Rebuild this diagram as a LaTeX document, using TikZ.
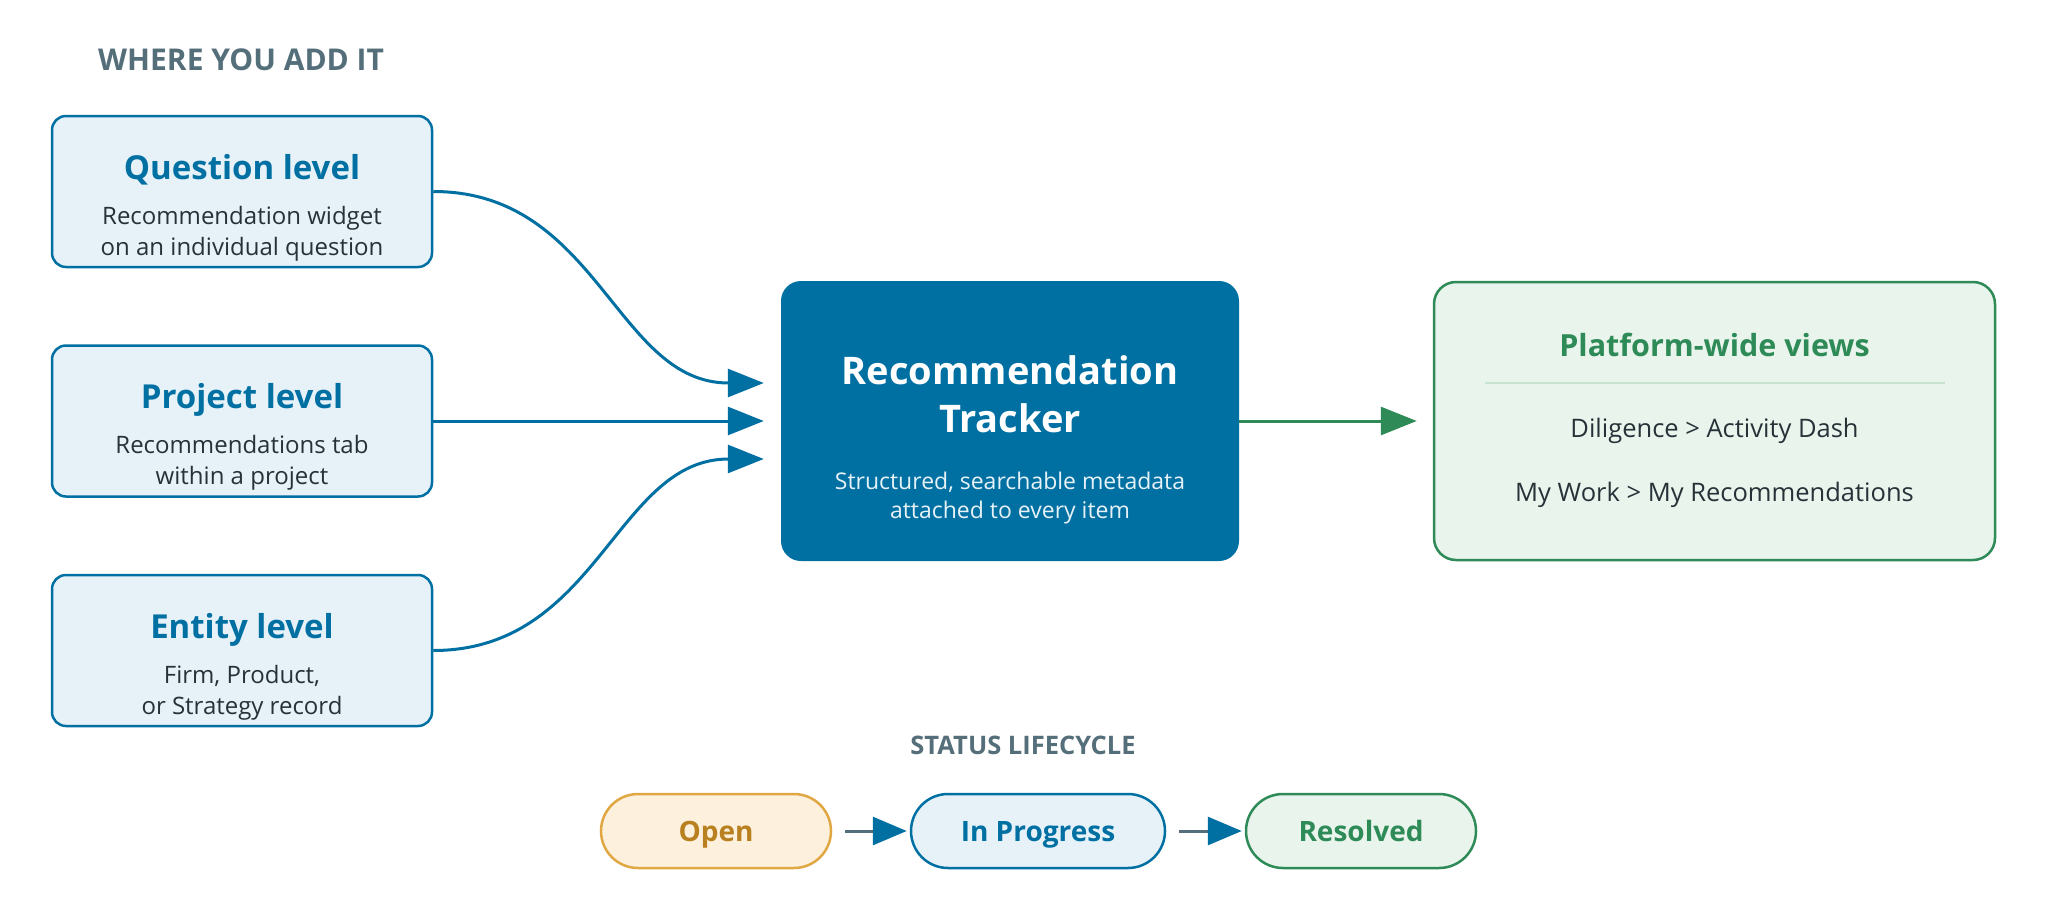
\documentclass[tikz,border=0pt]{standalone}
\usepackage{fontspec}
\setmainfont{Open Sans}
\usetikzlibrary{arrows.meta,positioning}

\definecolor{trackblue}{HTML}{0070A3}
\definecolor{paleblue}{HTML}{E6F1F8}
\definecolor{inkgray}{HTML}{263238}
\definecolor{headgray}{HTML}{546E7A}
\definecolor{leafgreen}{HTML}{2E8B57}
\definecolor{palegreen}{HTML}{E9F5EC}
\definecolor{rulegreen}{HTML}{C5E3CF}
\definecolor{amber}{HTML}{E0A743}
\definecolor{paleamber}{HTML}{FDF0DD}
\definecolor{amberink}{HTML}{B8801F}

\begin{document}
\begin{tikzpicture}
		[
		x = 1pt, y = -1pt,
		heading/.style = {font=\bfseries\fontsize{30}{36}\selectfont, text=headgray, inner sep=0pt},
		source/.style = {draw=trackblue, fill=paleblue, line width=2.5pt, rounded corners=14pt,
			minimum width=380pt, minimum height=151pt},
		srctitle/.style = {anchor=base, inner sep=0pt, text=trackblue, font=\bfseries\fontsize{33}{40}\selectfont},
		srctext/.style = {anchor=base, inner sep=0pt, align=center, text=inkgray, font=\fontsize{24}{31}\selectfont},
		feed/.style = {draw=trackblue, line width=3pt, -{Triangle[length=36pt,width=28pt]}, shorten >=17pt},
		pill/.style = {line width=2.5pt, rounded corners=37pt, minimum height=74pt, minimum width=230pt,
			text height=20pt, text depth=0pt, font=\bfseries\fontsize{28}{32}\selectfont},
		advance/.style = {draw=headgray, line width=3pt, -{Triangle[length=34pt,width=28pt,color=trackblue]},
			shorten <=13pt, shorten >=3pt},
		]
		
		\useasboundingbox (0,0) rectangle (2047,921);
		
		\node[heading, anchor=base west] (where) at (98,70) {WHERE YOU ADD IT};
		
		% the three places
		\node[source] (qbox) at (242,191.5) {};
		\node[srctitle] (qtitle) at ([yshift=12.5pt]qbox.center) {Question level};
		\node[srctext] (qtext) at ([yshift=-63.5pt]qbox.center) {Recommendation widget\\on an individual question};
		
		\node[source] (pbox) at (242,421) {};
		\node[srctitle] (ptitle) at ([yshift=12.5pt]pbox.center) {Project level};
		\node[srctext] (ptext) at ([yshift=-63.5pt]pbox.center) {Recommendations tab\\within a project};
		
		\node[source] (ebox) at (242,650.5) {};
		\node[srctitle] (etitle) at ([yshift=12.5pt]ebox.center) {Entity level};
		\node[srctext] (etext) at ([yshift=-63.5pt]ebox.center) {Firm, Product,\\or Strategy record};
		
		% tracker
		\node[fill=trackblue, rounded corners=20pt, minimum width=458pt, minimum height=280pt] (tracker) at (1010,421) {};
		\node[anchor=base, inner sep=0pt, align=center, text=white, font=\bfseries\fontsize{38}{48}\selectfont]
			(ttitle) at ([yshift=-11pt]tracker.center) {Recommendation\\Tracker};
		\node[anchor=base, inner sep=0pt, align=center, text=paleblue!85!trackblue!40, font=\fontsize{23}{29}\selectfont]
			(ttext) at ([yshift=-97pt]tracker.center) {Structured, searchable metadata\\attached to every item};
		
		% views
		\node[draw=leafgreen, fill=palegreen, line width=2.5pt, rounded corners=22pt,
			minimum width=561pt, minimum height=278pt] (views) at (1714.5,421) {};
		\node[anchor=base, inner sep=0pt, text=leafgreen, font=\bfseries\fontsize{30.5}{36}\selectfont]
			(vtitle) at ([yshift=65pt]views.center) {Platform-wide views};
		\draw[rulegreen, line width=2pt] ([xshift=-230pt,yshift=38pt]views.center) -- ([xshift=230pt,yshift=38pt]views.center);
		\node[anchor=base, inner sep=0pt, align=center, text=inkgray, font=\fontsize{25.5}{64}\selectfont]
			(vtext) at ([yshift=-80pt]views.center) {Diligence > Activity Dash\\My Work > My Recommendations};
		
		\draw[feed] (qbox.east) .. controls +(165,0) and +(-165,0) .. ([yshift=38pt]tracker.west);
		\draw[feed] (pbox) -- (tracker);
		\draw[feed] (ebox.east) .. controls +(165,0) and +(-165,0) .. ([yshift=-38pt]tracker.west);
		\draw[draw=leafgreen, line width=3pt, -{Triangle[length=36pt,width=28pt]}, shorten >=16pt] (tracker) -- (views);
		
		% lifecycle
		\node[heading, anchor=base, font=\bfseries\fontsize{25.5}{30}\selectfont] (status) at (1023,754) {STATUS LIFECYCLE};
		\node[pill, draw=amber, fill=paleamber, text=amberink] (open) at (716,831) {Open};
		\node[pill, draw=trackblue, fill=paleblue, text=trackblue, minimum width=254pt] (prog) at (1038,831) {In Progress};
		\node[pill, draw=leafgreen, fill=palegreen, text=leafgreen] (done) at (1361,831) {Resolved};
		\draw[advance] (open) -- (prog);
		\draw[advance] (prog) -- (done);
		
\end{tikzpicture}
\end{document}
